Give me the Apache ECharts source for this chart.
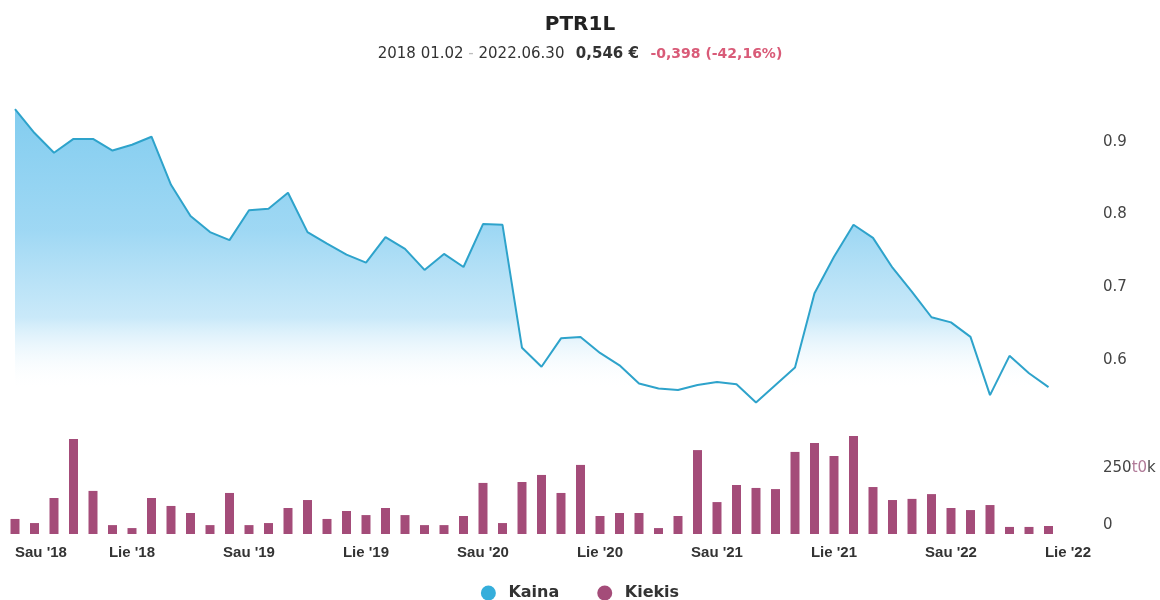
<!DOCTYPE html>
<html>
<head>
<meta charset="utf-8">
<title>PTR1L</title>
<script src="https://cdn.jsdelivr.net/npm/echarts@6/dist/echarts.min.js"></script>
<style>
    html, body { margin: 0; padding: 0; background: #fff; }
    #chart { width: 1160px; height: 600px; }
</style>
</head>
<body>
<div id="chart"></div>
<script>
/* kategorijos - menesiai nuo 2018 sausio iki 2022 liepos */
var monthNames = ["Sau", "Vas", "Kov", "Bal", "Geg", "Bir", "Lie", "Rgp", "Rgs", "Spa", "Lap", "Gru"];
var years = ["18", "19", "20", "21", "22"];
var categories = [];
years.forEach(function (y) {
    monthNames.forEach(function (m) { categories.push(m + " '" + y); });
});
categories = categories.slice(0, 55);

/* kaina (menesio taskai) */
var priceData = [
    0.945, 0.912, 0.885, 0.904, 0.904, 0.888, 0.896, 0.907, 0.841, 0.798, 0.776, 0.765,
    0.806, 0.808, 0.830, 0.776, 0.760, 0.745, 0.734, 0.769, 0.753, 0.724, 0.746, 0.728,
    0.787, 0.786, 0.617, 0.591, 0.630, 0.632, 0.610, 0.593, 0.568, 0.561, 0.559, 0.566,
    0.570, 0.567, 0.542, 0.566, 0.590, 0.692, 0.742, 0.786, 0.768, 0.727, 0.694, 0.659,
    0.652, 0.632, 0.552, 0.606, 0.582, 0.563
];

/* kiekis */
var volumeData = [
    66000, 48000, 158000, 417000, 189000, 39000, 26000, 158000, 123000, 92000, 39000, 180000,
    39000, 48000, 114000, 149000, 66000, 101000, 83000, 114000, 83000, 39000, 39000, 79000,
    224000, 48000, 228000, 259000, 180000, 303000, 79000, 92000, 92000, 26000, 79000, 368000,
    140000, 215000, 202000, 197000, 360000, 399000, 342000, 430000, 206000, 149000, 154000, 175000,
    114000, 105000, 127000, 31000, 31000, 35000
];

var priceTicks = [0.6, 0.7, 0.8, 0.9];
var volumeTicks = [0, 250000];

var chart = echarts.init(document.getElementById('chart'));
var font = 'DejaVu Sans, sans-serif';
var fontAxis = 'Liberation Sans, Arial, sans-serif';

var option = {
    animation: false,
    backgroundColor: '#fff',
    title: {
        text: 'PTR1L',
        left: 'center',
        top: 10,
        itemGap: 12,
        textStyle: { fontFamily: font, fontSize: 20, fontWeight: 'bold', color: '#222' },
        subtext: '{d|2018 01.02 }{h|-}{d| 2022.06.30}   {p|0,546 €}   {c|-0,398 (-42,16%)}',
        subtextStyle: {
            fontFamily: font,
            rich: {
                d: { fontFamily: font, fontSize: 15, color: '#333' },
                h: { fontFamily: font, fontSize: 15, color: '#bbb' },
                p: { fontFamily: font, fontSize: 15, fontWeight: 'bold', color: '#333' },
                c: { fontFamily: font, fontSize: 14, fontWeight: 'bold', color: '#d95b78' }
            }
        }
    },
    legend: {
        top: 580,
        left: 'center',
        icon: 'circle',
        itemWidth: 18,
        itemHeight: 15,
        itemGap: 38,
        textStyle: { fontFamily: font, fontSize: 16, fontWeight: 'bold', color: '#333', padding: [0, 0, 0, 6] },
        data: ['Kaina', 'Kiekis']
    },
    grid: [
        { left: 15, right: 92, top: 69, height: 364 },
        { left: 15, right: 92, top: 420, height: 114 }
    ],
    xAxis: [
        {
            type: 'category', gridIndex: 0, data: categories, boundaryGap: false, show: false
        },
        {
            type: 'category', gridIndex: 1, data: categories, boundaryGap: false,
            axisLine: { show: false }, axisTick: { show: false }, splitLine: { show: false },
            axisLabel: {
                interval: function (i) { return i % 6 === 0; },
                showMaxLabel: true,
                alignMinLabel: 'left',
                margin: 11,
                fontFamily: fontAxis, fontSize: 15, fontWeight: 'bold', color: '#333'
            }
        }
    ],
    yAxis: [
        {
            type: 'value', gridIndex: 0, position: 'right', min: 0.5, max: 1.0, interval: 0.1,
            axisLine: { show: false }, axisTick: { show: false }, splitLine: { show: false },
            axisLabel: {
                margin: 35,
                fontFamily: font, fontSize: 15, color: '#444',
                formatter: function (v) {
                    for (var i = 0; i < priceTicks.length; i++) {
                        if (Math.abs(priceTicks[i] - v) < 1e-6) { return priceTicks[i].toFixed(1); }
                    }
                    return '';
                }
            }
        },
        {
            type: 'value', gridIndex: 1, position: 'right', min: 0, max: 500000, interval: 250000,
            axisLine: { show: false }, axisTick: { show: false }, splitLine: { show: false },
            axisLabel: {
                margin: 35,
                verticalAlign: 'bottom',
                padding: [0, 0, 1, 0],
                fontFamily: font, fontSize: 15, color: '#444',
                formatter: function (v) {
                    if (v === volumeTicks[0]) { return '{a|0}'; }
                    if (v === volumeTicks[1]) { return '{a|250}{b|t0}{a|k}'; }
                    return '';
                },
                rich: {
                    a: { fontFamily: font, fontSize: 15, color: '#444' },
                    b: { fontFamily: font, fontSize: 15, color: '#b07a98' }
                }
            }
        }
    ],
    series: [
        {
            name: 'Kaina',
            type: 'line',
            xAxisIndex: 0,
            yAxisIndex: 0,
            data: priceData,
            symbol: 'none',
            lineStyle: { color: '#2ea3cb', width: 2 },
            itemStyle: { color: '#35aedb' },
            areaStyle: {
                color: {
                    type: 'linear', x: 0, y: 100, x2: 0, y2: 390, global: true,
                    colorStops: [
                        { offset: 0, color: 'rgba(74,182,232,1)' },
                        { offset: 0.45, color: 'rgba(110,196,238,0.95)' },
                        { offset: 0.75, color: 'rgba(165,218,245,0.85)' },
                        { offset: 1, color: 'rgba(255,255,255,0)' }
                    ]
                }
            }
        },
        {
            name: 'Kiekis',
            type: 'bar',
            xAxisIndex: 1,
            yAxisIndex: 1,
            data: volumeData,
            barWidth: 9,
            itemStyle: { color: '#a44c79' }
        }
    ]
};

chart.setOption(option);
</script>
</body>
</html>
